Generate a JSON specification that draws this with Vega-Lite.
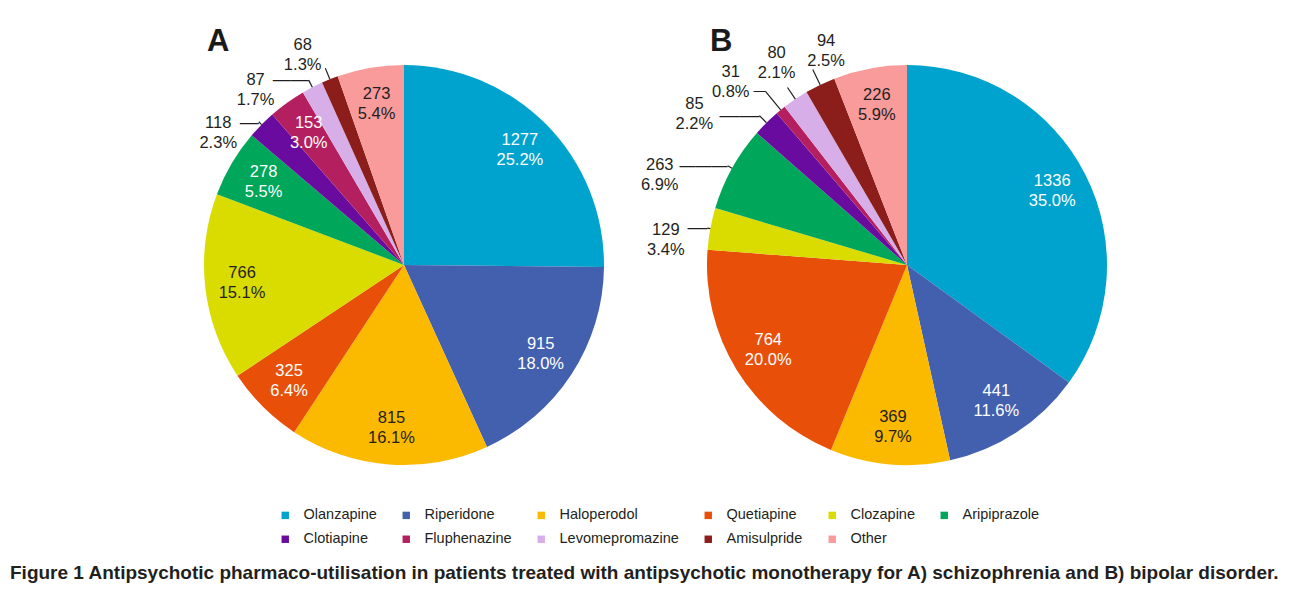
{
  "$schema": "https://vega.github.io/schema/vega-lite/v6.json",
  "padding": {"left": 10, "top": 25, "right": 0, "bottom": 0},
  "bounds": "flush",
  "datasets": {
    "pies": [
      {"panel": "A", "drug": "Olanzapine", "n": 1277, "pct": 25.2, "idx": 1},
      {"panel": "A", "drug": "Riperidone", "n": 915, "pct": 18.0, "idx": 2},
      {"panel": "A", "drug": "Haloperodol", "n": 815, "pct": 16.1, "idx": 3},
      {"panel": "A", "drug": "Quetiapine", "n": 325, "pct": 6.4, "idx": 4},
      {"panel": "A", "drug": "Clozapine", "n": 766, "pct": 15.1, "idx": 5},
      {"panel": "A", "drug": "Aripiprazole", "n": 278, "pct": 5.5, "idx": 6},
      {"panel": "A", "drug": "Clotiapine", "n": 118, "pct": 2.3, "idx": 7},
      {"panel": "A", "drug": "Fluphenazine", "n": 153, "pct": 3.0, "idx": 8},
      {"panel": "A", "drug": "Levomepromazine", "n": 87, "pct": 1.7, "idx": 9},
      {"panel": "A", "drug": "Amisulpride", "n": 68, "pct": 1.3, "idx": 10},
      {"panel": "A", "drug": "Other", "n": 273, "pct": 5.4, "idx": 11},
      {"panel": "B", "drug": "Olanzapine", "n": 1336, "pct": 35.0, "idx": 1},
      {"panel": "B", "drug": "Riperidone", "n": 441, "pct": 11.6, "idx": 2},
      {"panel": "B", "drug": "Haloperodol", "n": 369, "pct": 9.7, "idx": 3},
      {"panel": "B", "drug": "Quetiapine", "n": 764, "pct": 20.0, "idx": 4},
      {"panel": "B", "drug": "Clozapine", "n": 129, "pct": 3.4, "idx": 5},
      {"panel": "B", "drug": "Aripiprazole", "n": 263, "pct": 6.9, "idx": 6},
      {"panel": "B", "drug": "Clotiapine", "n": 85, "pct": 2.2, "idx": 7},
      {"panel": "B", "drug": "Fluphenazine", "n": 31, "pct": 0.8, "idx": 8},
      {"panel": "B", "drug": "Levomepromazine", "n": 80, "pct": 2.1, "idx": 9},
      {"panel": "B", "drug": "Amisulpride", "n": 94, "pct": 2.5, "idx": 10},
      {"panel": "B", "drug": "Other", "n": 226, "pct": 5.9, "idx": 11}
    ]
  },
  "data": {"name": "pies"},
  "title": {
    "text": "Figure 1 Antipsychotic pharmaco-utilisation in patients treated with antipsychotic monotherapy for A) schizophrenia and B) bipolar disorder.",
    "orient": "bottom",
    "anchor": "start",
    "frame": "group",
    "font": "Liberation Sans",
    "fontWeight": "bold",
    "fontSize": 19,
    "color": "#231f20",
    "dx": -154,
    "offset": 18
  },
  "spacing": 23,
  "resolve": {"scale": {"theta": "independent", "color": "shared"}, "legend": {"color": "shared"}},
  "hconcat": [
    {
      "width": 480,
      "height": 480,
      "title": {"text": "A", "anchor": "start", "frame": "group", "font": "Liberation Sans", "fontSize": 31, "fontWeight": "bold", "color": "#1a1a1a", "dx": 43, "offset": -33},
      "transform": [
        {"filter": "datum.panel === 'A'"},
        {"stack": "n", "groupby": [], "sort": [{"field": "idx", "order": "ascending"}], "as": ["s0", "s1"]},
        {"calculate": "(datum.s0 + datum.s1) / 2", "as": "mid"},
        {"calculate": "datum.n + '\\n' + format(datum.pct, '.1f') + '%'", "as": "label"}
      ],
      "layer": [
        {
          "mark": {"type": "arc", "outerRadius": 200},
          "encoding": {
            "theta": {"field": "s0", "type": "quantitative", "stack": null, "scale": {"domain": [0, 5075]}},
            "theta2": {"field": "s1"},
            "color": {
              "field": "drug", "type": "nominal",
              "scale": {
                "domain": ["Olanzapine", "Riperidone", "Haloperodol", "Quetiapine", "Clozapine", "Aripiprazole", "Clotiapine", "Fluphenazine", "Levomepromazine", "Amisulpride", "Other"],
                "range": ["#00a3cd", "#4360ae", "#fbb900", "#e8500a", "#dadc00", "#00a65a", "#6a0ba0", "#b4205f", "#d8aee8", "#8b1d1a", "#f99b9b"]
              },
              "legend": {"orient": "none", "legendX": 114, "legendY": 483, "direction": "horizontal", "columns": 6}
            }
          }
        },
        {
          "transform": [{"filter": "datum.drug === 'Clotiapine'"}],
          "mark": {"type": "arc", "innerRadius": 200, "outerRadius": 204, "padAngle": 1.5, "filled": false, "stroke": "#231f20", "strokeWidth": 1.2},
          "encoding": {"theta": {"field": "s0", "type": "quantitative", "stack": null, "scale": {"domain": [0, 5075]}}, "theta2": {"field": "s1"}}
        },
        {
          "transform": [{"filter": "datum.drug === 'Levomepromazine'"}],
          "mark": {"type": "arc", "innerRadius": 200, "outerRadius": 208, "padAngle": 1.5, "filled": false, "stroke": "#231f20", "strokeWidth": 1.2},
          "encoding": {"theta": {"field": "s0", "type": "quantitative", "stack": null, "scale": {"domain": [0, 5075]}}, "theta2": {"field": "s1"}}
        },
        {
          "transform": [{"filter": "datum.drug === 'Amisulpride'"}],
          "mark": {"type": "arc", "innerRadius": 200, "outerRadius": 212, "padAngle": 1.5, "filled": false, "stroke": "#231f20", "strokeWidth": 1.2},
          "encoding": {"theta": {"field": "s0", "type": "quantitative", "stack": null, "scale": {"domain": [0, 5075]}}, "theta2": {"field": "s1"}}
        },
        {
          "transform": [{"filter": "datum.drug === 'Clotiapine'"}],
          "mark": {"type": "text", "radius": 204, "align": "right", "baseline": "middle", "fontSize": 19, "font": "Liberation Sans", "color": "#231f20", "text": "—"},
          "encoding": {"theta": {"field": "mid", "type": "quantitative", "stack": null, "scale": {"domain": [0, 5075]}}}
        },
        {
          "transform": [{"filter": "datum.drug === 'Levomepromazine'"}],
          "mark": {"type": "text", "radius": 208, "align": "right", "baseline": "middle", "fontSize": 18, "font": "Liberation Sans", "color": "#231f20", "text": "——"},
          "encoding": {"theta": {"field": "mid", "type": "quantitative", "stack": null, "scale": {"domain": [0, 5075]}}}
        },
        {
          "transform": [{"filter": "indexof(['Clotiapine','Levomepromazine','Amisulpride'], datum.drug) < 0"}],
          "mark": {"type": "text", "radius": 163, "dy": -10, "fontSize": 16.5, "lineBreak": "\n", "lineHeight": 20, "font": "Liberation Sans"},
          "encoding": {
            "theta": {"field": "mid", "type": "quantitative", "stack": null, "scale": {"domain": [0, 5075]}},
            "text": {"field": "label"},
            "color": {"condition": {"test": "indexof(['Haloperodol','Clozapine','Other'], datum.drug) >= 0", "value": "#231f20"}, "value": "white"}
          }
        },
        {
          "transform": [{"filter": "datum.drug === 'Clotiapine'"}],
          "mark": {"type": "text", "radius": 230, "dx": -22, "dy": 19, "fontSize": 16.5, "lineBreak": "\n", "lineHeight": 20, "font": "Liberation Sans", "color": "#231f20"},
          "encoding": {"theta": {"field": "mid", "type": "quantitative", "stack": null, "scale": {"domain": [0, 5075]}}, "text": {"field": "label"}}
        },
        {
          "transform": [{"filter": "datum.drug === 'Levomepromazine'"}],
          "mark": {"type": "text", "radius": 230, "dx": -43, "dy": 19, "fontSize": 16.5, "lineBreak": "\n", "lineHeight": 20, "font": "Liberation Sans", "color": "#231f20"},
          "encoding": {"theta": {"field": "mid", "type": "quantitative", "stack": null, "scale": {"domain": [0, 5075]}}, "text": {"field": "label"}}
        },
        {
          "transform": [{"filter": "datum.drug === 'Amisulpride'"}],
          "mark": {"type": "text", "radius": 230, "dx": -16, "dy": -6, "fontSize": 16.5, "lineBreak": "\n", "lineHeight": 20, "font": "Liberation Sans", "color": "#231f20"},
          "encoding": {"theta": {"field": "mid", "type": "quantitative", "stack": null, "scale": {"domain": [0, 5075]}}, "text": {"field": "label"}}
        }
      ]
    },
    {
      "width": 480,
      "height": 480,
      "title": {"text": "B", "anchor": "start", "frame": "group", "font": "Liberation Sans", "fontSize": 31, "fontWeight": "bold", "color": "#1a1a1a", "dx": 43, "offset": -33},
      "transform": [
        {"filter": "datum.panel === 'B'"},
        {"stack": "n", "groupby": [], "sort": [{"field": "idx", "order": "ascending"}], "as": ["s0", "s1"]},
        {"calculate": "(datum.s0 + datum.s1) / 2", "as": "mid"},
        {"calculate": "datum.n + '\\n' + format(datum.pct, '.1f') + '%'", "as": "label"}
      ],
      "layer": [
        {
          "mark": {"type": "arc", "outerRadius": 200},
          "encoding": {
            "theta": {"field": "s0", "type": "quantitative", "stack": null, "scale": {"domain": [0, 3818]}},
            "theta2": {"field": "s1"},
            "color": {"field": "drug", "type": "nominal"}
          }
        },
        {
          "transform": [{"filter": "datum.drug === 'Clozapine'"}],
          "mark": {"type": "arc", "innerRadius": 200, "outerRadius": 203, "padAngle": 1.5, "filled": false, "stroke": "#231f20", "strokeWidth": 1.2},
          "encoding": {"theta": {"field": "s0", "type": "quantitative", "stack": null, "scale": {"domain": [0, 3818]}}, "theta2": {"field": "s1"}}
        },
        {
          "transform": [{"filter": "datum.drug === 'Aripiprazole'"}],
          "mark": {"type": "arc", "innerRadius": 200, "outerRadius": 205, "padAngle": 1.5, "filled": false, "stroke": "#231f20", "strokeWidth": 1.2},
          "encoding": {"theta": {"field": "s0", "type": "quantitative", "stack": null, "scale": {"domain": [0, 3818]}}, "theta2": {"field": "s1"}}
        },
        {
          "transform": [{"filter": "datum.drug === 'Clotiapine'"}],
          "mark": {"type": "arc", "innerRadius": 200, "outerRadius": 210, "padAngle": 1.5, "filled": false, "stroke": "#231f20", "strokeWidth": 1.2},
          "encoding": {"theta": {"field": "s0", "type": "quantitative", "stack": null, "scale": {"domain": [0, 3818]}}, "theta2": {"field": "s1"}}
        },
        {
          "transform": [{"filter": "datum.drug === 'Fluphenazine'"}],
          "mark": {"type": "arc", "innerRadius": 200, "outerRadius": 224, "padAngle": 1.5, "filled": false, "stroke": "#231f20", "strokeWidth": 1.2},
          "encoding": {"theta": {"field": "s0", "type": "quantitative", "stack": null, "scale": {"domain": [0, 3818]}}, "theta2": {"field": "s1"}}
        },
        {
          "transform": [{"filter": "datum.drug === 'Levomepromazine'"}],
          "mark": {"type": "arc", "innerRadius": 200, "outerRadius": 214, "padAngle": 1.5, "filled": false, "stroke": "#231f20", "strokeWidth": 1.2},
          "encoding": {"theta": {"field": "s0", "type": "quantitative", "stack": null, "scale": {"domain": [0, 3818]}}, "theta2": {"field": "s1"}}
        },
        {
          "transform": [{"filter": "datum.drug === 'Amisulpride'"}],
          "mark": {"type": "arc", "innerRadius": 200, "outerRadius": 217, "padAngle": 1.5, "filled": false, "stroke": "#231f20", "strokeWidth": 1.2},
          "encoding": {"theta": {"field": "s0", "type": "quantitative", "stack": null, "scale": {"domain": [0, 3818]}}, "theta2": {"field": "s1"}}
        },
        {
          "transform": [{"filter": "datum.drug === 'Clozapine'"}],
          "mark": {"type": "text", "radius": 203, "align": "right", "baseline": "middle", "fontSize": 20, "font": "Liberation Sans", "color": "#231f20", "text": "—"},
          "encoding": {"theta": {"field": "mid", "type": "quantitative", "stack": null, "scale": {"domain": [0, 3818]}}}
        },
        {
          "transform": [{"filter": "datum.drug === 'Aripiprazole'"}],
          "mark": {"type": "text", "radius": 205, "align": "right", "baseline": "middle", "fontSize": 16, "font": "Liberation Sans", "color": "#231f20", "text": "———"},
          "encoding": {"theta": {"field": "mid", "type": "quantitative", "stack": null, "scale": {"domain": [0, 3818]}}}
        },
        {
          "transform": [{"filter": "datum.drug === 'Clotiapine'"}],
          "mark": {"type": "text", "radius": 210, "align": "right", "baseline": "middle", "fontSize": 20, "font": "Liberation Sans", "color": "#231f20", "text": "——"},
          "encoding": {"theta": {"field": "mid", "type": "quantitative", "stack": null, "scale": {"domain": [0, 3818]}}}
        },
        {
          "transform": [{"filter": "datum.drug === 'Fluphenazine'"}],
          "mark": {"type": "text", "radius": 224, "align": "right", "baseline": "middle", "fontSize": 12, "font": "Liberation Sans", "color": "#231f20", "text": "—"},
          "encoding": {"theta": {"field": "mid", "type": "quantitative", "stack": null, "scale": {"domain": [0, 3818]}}}
        },
        {
          "transform": [{"filter": "indexof(['Clozapine','Aripiprazole','Clotiapine','Fluphenazine','Levomepromazine','Amisulpride'], datum.drug) < 0"}],
          "mark": {"type": "text", "radius": 163, "dy": -10, "fontSize": 16.5, "lineBreak": "\n", "lineHeight": 20, "font": "Liberation Sans"},
          "encoding": {
            "theta": {"field": "mid", "type": "quantitative", "stack": null, "scale": {"domain": [0, 3818]}},
            "text": {"field": "label"},
            "color": {"condition": {"test": "indexof(['Haloperodol','Other'], datum.drug) >= 0", "value": "#231f20"}, "value": "white"}
          }
        },
        {
          "transform": [{"filter": "datum.drug === 'Clozapine'"}],
          "mark": {"type": "text", "radius": 230, "dx": -15, "dy": 7, "fontSize": 16.5, "lineBreak": "\n", "lineHeight": 20, "font": "Liberation Sans", "color": "#231f20"},
          "encoding": {"theta": {"field": "mid", "type": "quantitative", "stack": null, "scale": {"domain": [0, 3818]}}, "text": {"field": "label"}}
        },
        {
          "transform": [{"filter": "datum.drug === 'Aripiprazole'"}],
          "mark": {"type": "text", "radius": 230, "dx": -46, "dy": 11, "fontSize": 16.5, "lineBreak": "\n", "lineHeight": 20, "font": "Liberation Sans", "color": "#231f20"},
          "encoding": {"theta": {"field": "mid", "type": "quantitative", "stack": null, "scale": {"domain": [0, 3818]}}, "text": {"field": "label"}}
        },
        {
          "transform": [{"filter": "datum.drug === 'Clotiapine'"}],
          "mark": {"type": "text", "radius": 230, "dx": -51, "dy": 3, "fontSize": 16.5, "lineBreak": "\n", "lineHeight": 20, "font": "Liberation Sans", "color": "#231f20"},
          "encoding": {"theta": {"field": "mid", "type": "quantitative", "stack": null, "scale": {"domain": [0, 3818]}}, "text": {"field": "label"}}
        },
        {
          "transform": [{"filter": "datum.drug === 'Fluphenazine'"}],
          "mark": {"type": "text", "radius": 230, "dx": -31, "dy": -15, "fontSize": 16.5, "lineBreak": "\n", "lineHeight": 20, "font": "Liberation Sans", "color": "#231f20"},
          "encoding": {"theta": {"field": "mid", "type": "quantitative", "stack": null, "scale": {"domain": [0, 3818]}}, "text": {"field": "label"}}
        },
        {
          "transform": [{"filter": "datum.drug === 'Levomepromazine'"}],
          "mark": {"type": "text", "radius": 230, "dx": -2, "dy": -21, "fontSize": 16.5, "lineBreak": "\n", "lineHeight": 20, "font": "Liberation Sans", "color": "#231f20"},
          "encoding": {"theta": {"field": "mid", "type": "quantitative", "stack": null, "scale": {"domain": [0, 3818]}}, "text": {"field": "label"}}
        },
        {
          "transform": [{"filter": "datum.drug === 'Amisulpride'"}],
          "mark": {"type": "text", "radius": 230, "dx": 19, "dy": -17, "fontSize": 16.5, "lineBreak": "\n", "lineHeight": 20, "font": "Liberation Sans", "color": "#231f20"},
          "encoding": {"theta": {"field": "mid", "type": "quantitative", "stack": null, "scale": {"domain": [0, 3818]}}, "text": {"field": "label"}}
        }
      ]
    }
  ],
  "config": {
    "view": {"stroke": null},
    "legend": {
      "title": null,
      "padding": 0,
      "symbolType": "square",
      "symbolSize": 55,
      "symbolStrokeWidth": 0,
      "labelFontSize": 14.5,
      "labelFont": "Liberation Sans",
      "labelColor": "#231f20",
      "labelOffset": 11,
      "columnPadding": 22,
      "rowPadding": 9
    }
  }
}
